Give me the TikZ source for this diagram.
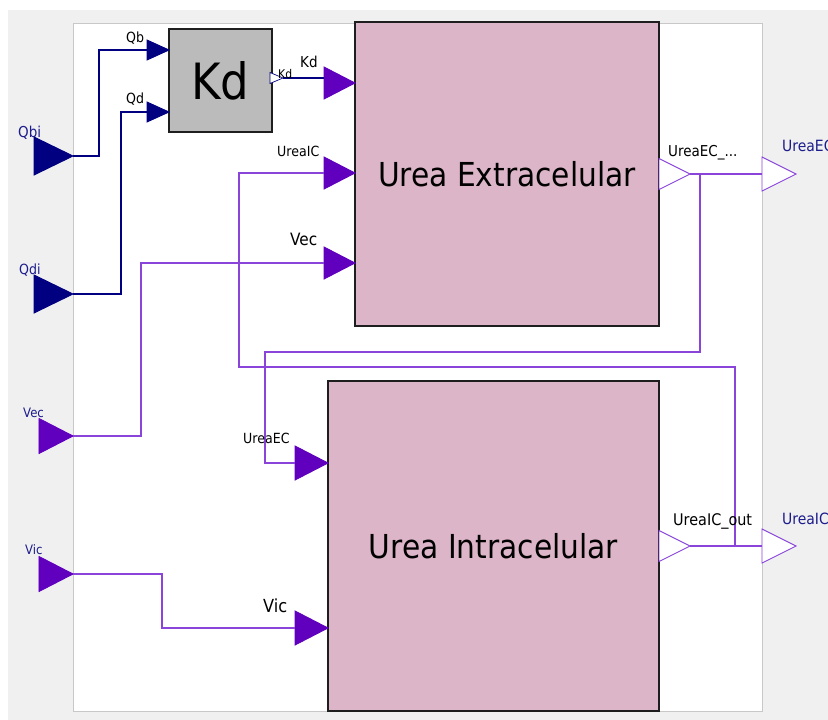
\documentclass[tikz,border=0pt]{standalone}
\usepackage{fontspec}
\setmainfont{DejaVu Sans}[FakeStretch=0.9]
\usetikzlibrary{shapes.geometric}
\definecolor{navyc}{RGB}{0,0,128}
\definecolor{purpc}{RGB}{96,0,190}
\definecolor{plinec}{RGB}{138,68,218}
\definecolor{pinkc}{RGB}{221,181,200}
\definecolor{grayc}{RGB}{187,187,187}
\definecolor{bgc}{RGB}{240,240,240}
\definecolor{framec}{RGB}{200,200,200}
\definecolor{bluetxt}{RGB}{28,28,140}
\definecolor{blockc}{RGB}{30,30,30}
\begin{document}
\begin{tikzpicture}[x=1pt,y=-1pt,
  tri/.style={isosceles triangle, isosceles triangle stretches, inner sep=0pt, outer sep=0pt, anchor=east, line width=0.9pt},
  navyin/.style={tri, draw=navyc, fill=navyc, minimum width=38pt, minimum height=39pt},
  purpin/.style={tri, draw=purpc, fill=purpc, minimum width=35pt, minimum height=34pt},
  smallnavy/.style={tri, draw=navyc, fill=navyc, minimum width=20pt, minimum height=22pt},
  blkin/.style={tri, draw=purpc, fill=purpc, minimum width=32pt, minimum height=31pt},
  blkin2/.style={tri, draw=purpc, fill=purpc, minimum width=34pt, minimum height=33pt},
  outtri/.style={tri, draw=plinec, fill=white, minimum width=31pt, minimum height=31pt},
  outtri2/.style={tri, draw=plinec, fill=white, minimum width=34pt, minimum height=34pt},
  nline/.style={draw=navyc, line width=1.1pt},
  pline/.style={draw=plinec, line width=1.1pt},
  block/.style={draw=blockc, line width=1.2pt, inner sep=0pt, outer sep=0pt, anchor=north west},
  lab/.style={inner sep=0pt, anchor=base west, text=black, font=\fontsize{14}{16}\selectfont},
  blab/.style={lab, text=bluetxt}
]
\useasboundingbox (0,0) rectangle (828,720);
% background
\fill[bgc] (8,10) rectangle (828,720);
\draw[fill=white, draw=framec, line width=1pt] (73,23) rectangle (762,711);

% blocks
\node[block, fill=grayc, minimum width=103pt, minimum height=103pt, font=\fontsize{50}{56}\selectfont] (kd) at (169,29) {Kd};
\node[block, fill=pinkc, minimum width=304pt, minimum height=304pt, font=\fontsize{33}{38}\selectfont] (ec) at (355,22) {Urea Extracelular};
\node[block, fill=pinkc, minimum width=331pt, minimum height=330pt, font=\fontsize{33}{38}\selectfont] (ic) at (328,381) {Urea Intracelular};

% external inputs
\node[navyin] (qbi) at (73,156) {};
\node[navyin] (qdi) at (73,294) {};
\node[purpin] (vecin) at (73,436) {};
\node[purpin] (vicin) at (73,574) {};

% Kd block ports
\node[smallnavy] (qb) at (169,50) {};
\node[smallnavy] (qd) at (169,112) {};
\node[tri, draw=navyc, fill=white, line width=0.7pt, minimum width=11pt, minimum height=13pt] (kdo) at (283,78) {};

% EC block ports
\node[blkin] (kdi) at (355,83) {};
\node[blkin] (uici) at (355,173) {};
\node[blkin] (veci) at (355,263) {};
\node[outtri] (eco) at (690,174) {};

% IC block ports
\node[blkin2] (ueci) at (328,463) {};
\node[blkin2] (vici) at (328,628) {};
\node[outtri] (ico) at (690,546) {};

% external outputs
\node[outtri2] (ueo) at (796,174) {};
\node[outtri2] (uio) at (796,546) {};

% connectors
\draw[nline] (qbi.east) -- ++(26,0) |- (qb.west);
\draw[nline] (qdi.east) -- ++(48,0) |- (qd.west);
\draw[nline] (kdo.east) -- (kdo.east -| kdi.west);
\draw[pline] (vecin.east) -- ++(68,0) |- (veci.west);
\draw[pline] (vicin.east) -- ++(89,0) |- (vici.west);
\draw[pline] (eco.east) -- (ueo.west);
\draw[pline] (ico.east) -- (uio.west);
\coordinate (b1) at (700,174);
\coordinate (b2) at (735,546);
\draw[pline] (b1) |- (265,352) |- (ueci.west);
\draw[pline] (b2) |- (239,367) |- (uici.west);

% labels
\node[blab, font=\fontsize{15}{17}\selectfont] (lqbi) at (18,137) {Qbi};
\node[blab] (lqdi) at (19,274) {Qdi};
\node[blab, font=\fontsize{13}{15}\selectfont] (lvec) at (23,417) {Vec};
\node[blab, font=\fontsize{13}{15}\selectfont] (lvic) at (25,554) {Vic};
\node[lab] (lqb) at (126,42) {Qb};
\node[lab] (lqd) at (126,103) {Qd};
\node[lab, font=\fontsize{12}{14}\selectfont] (lkdo) at (278,78) {Kd};
\node[lab, font=\fontsize{15}{17}\selectfont] (lkdi) at (300,67) {Kd};
\node[lab] (luici) at (277,156) {UreaIC};
\node[lab, font=\fontsize{17}{19}\selectfont] (lveci) at (290,245) {Vec};
\node[lab] (lueci) at (243,443) {UreaEC};
\node[lab, font=\fontsize{18}{20}\selectfont] (lvici) at (263,612) {Vic};
\node[lab, font=\fontsize{15}{17}\selectfont] (leco) at (668,156) {UreaEC\_...};
\node[lab, font=\fontsize{16}{18}\selectfont] (lico) at (673,525) {UreaIC\_out};
\node[blab, font=\fontsize{15.5}{18}\selectfont] (lueo) at (782,151) {UreaEC};
\node[blab, font=\fontsize{15.5}{18}\selectfont] (luio) at (782,524) {UreaIC};
\end{tikzpicture}
\end{document}
